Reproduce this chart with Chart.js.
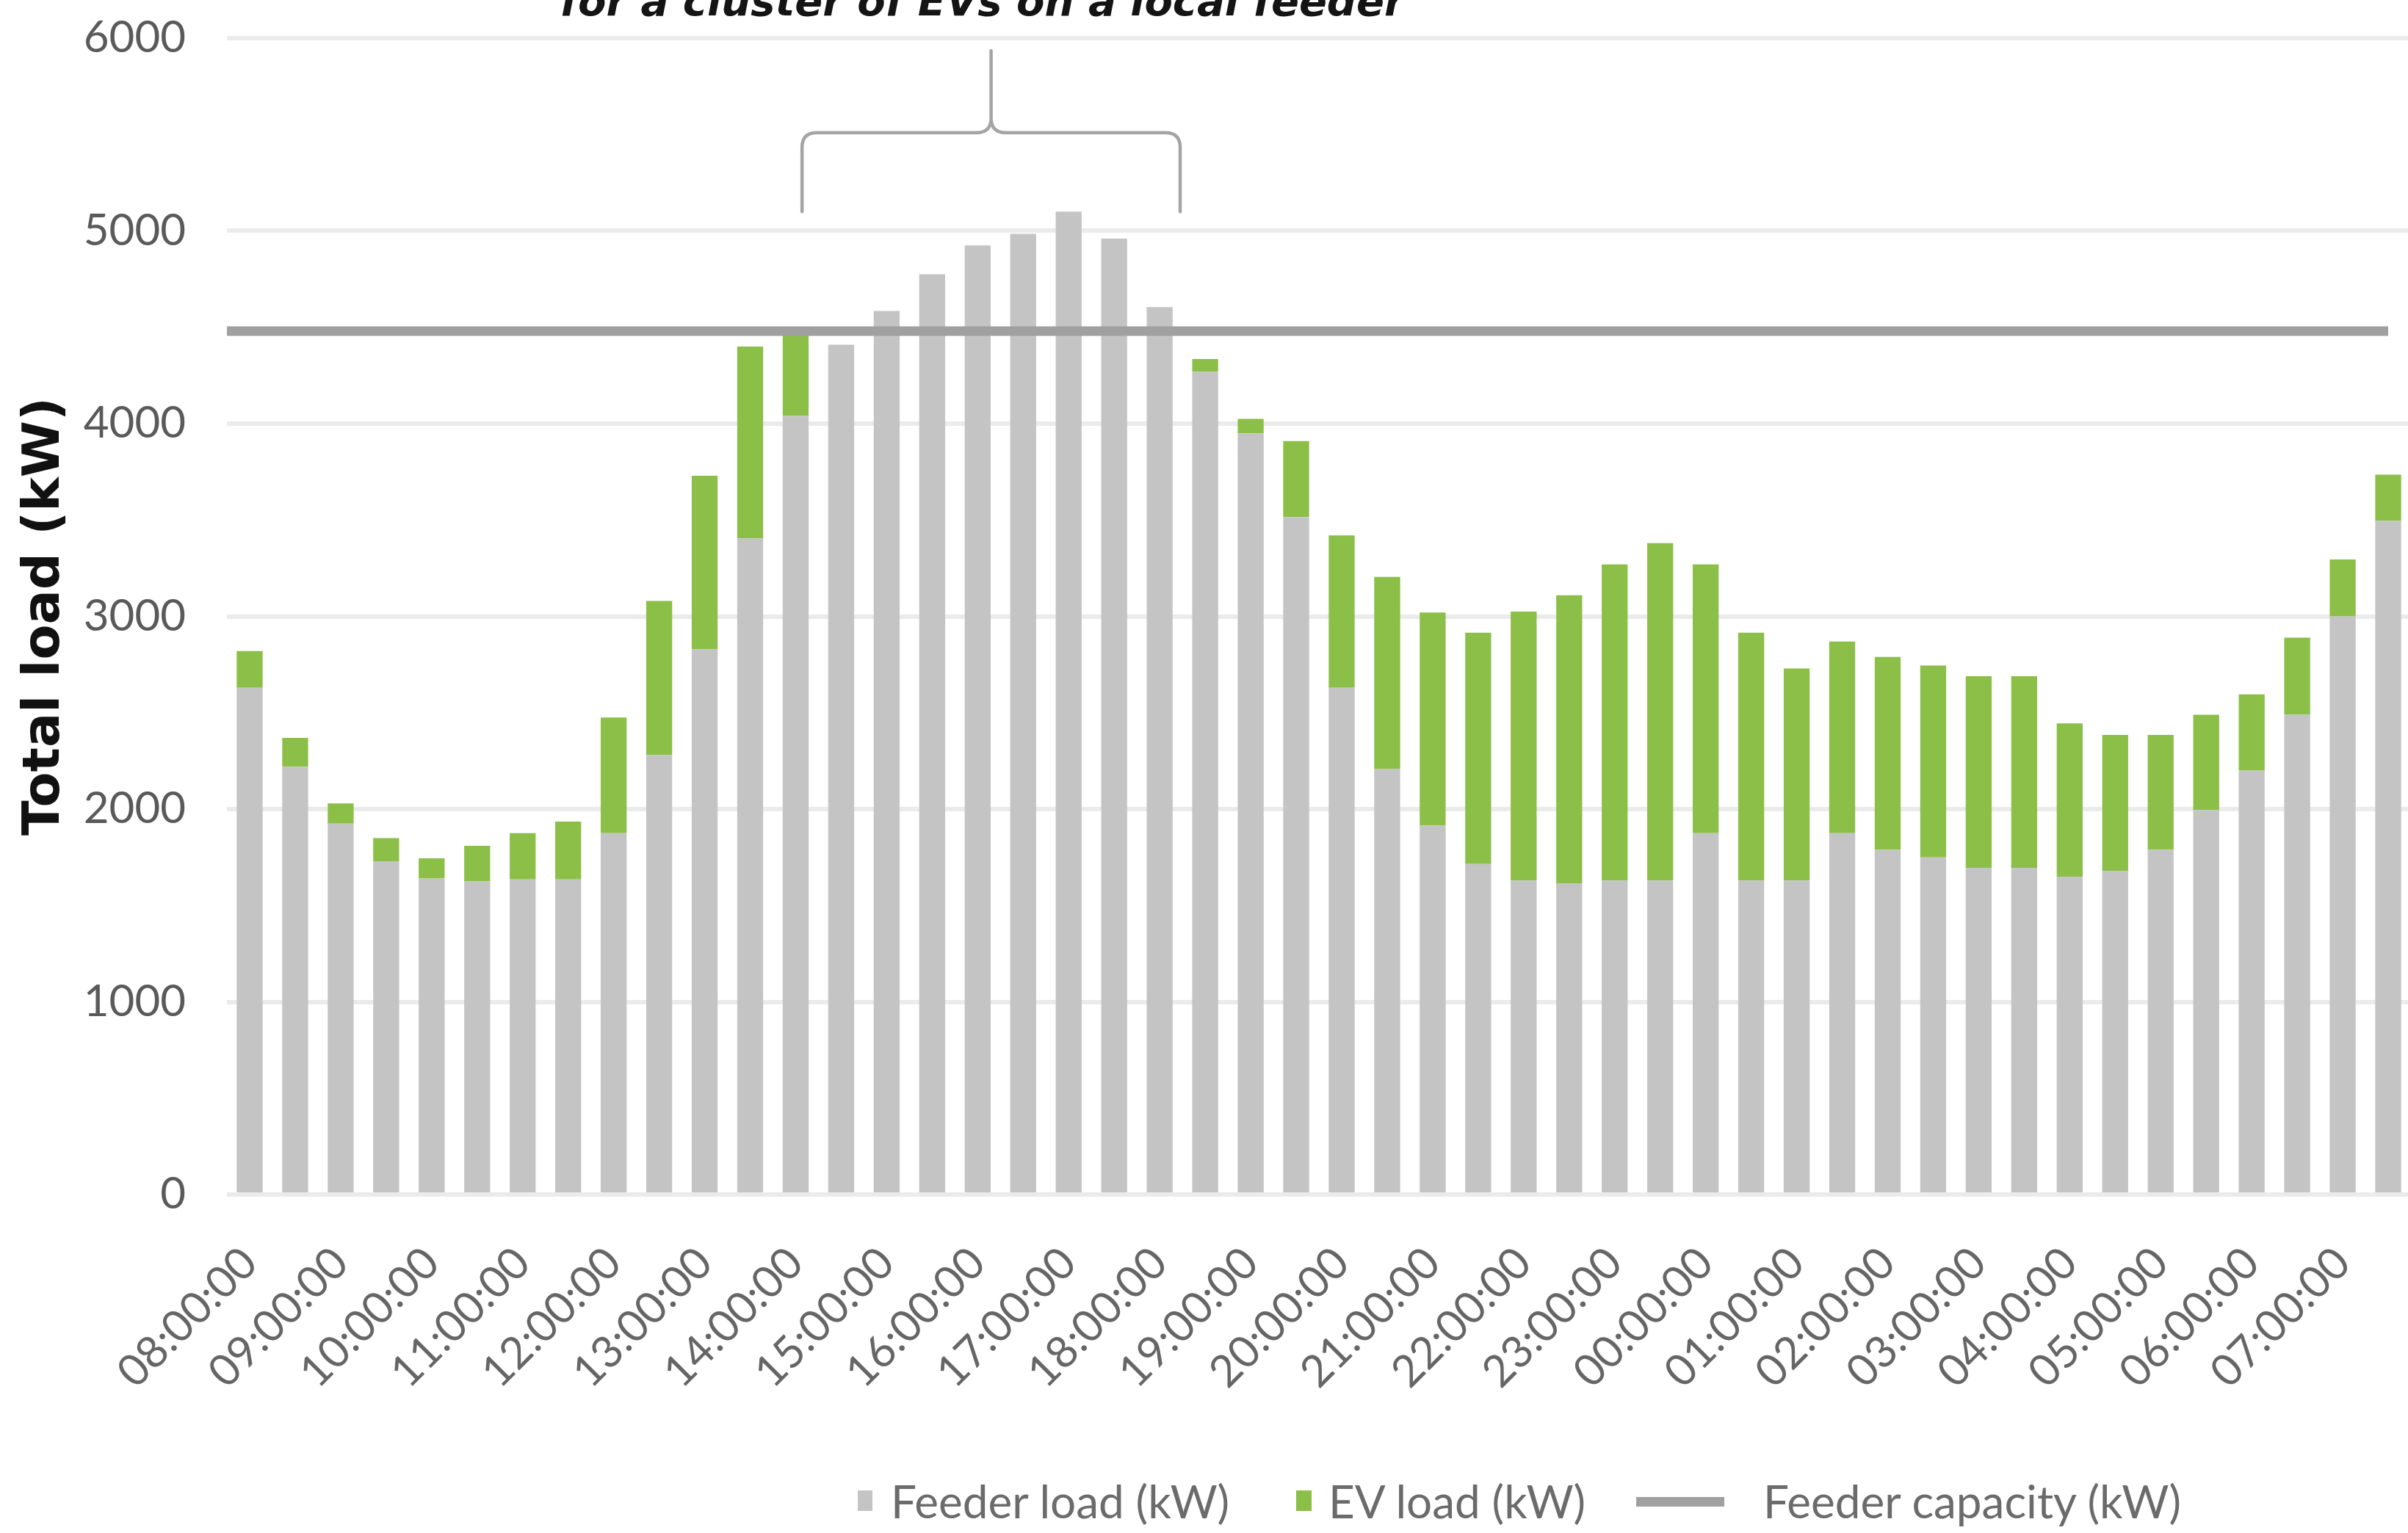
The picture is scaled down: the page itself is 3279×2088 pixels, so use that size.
<!DOCTYPE html>
<html>
<head>
<meta charset="utf-8">
<script src="https://cdn.jsdelivr.net/npm/chart.js@4.4.1/dist/chart.umd.min.js"></script>
<style>
  html, body { margin: 0; padding: 0; background: #ffffff; overflow: hidden; }
  #wrap { position: relative; width: 3279px; height: 2088px; overflow: hidden; background: #ffffff; }
  #chart { position: absolute; left: 0; top: 0; }
  .key { position: absolute; }
  .ltext { position: absolute; top: 2007px; height: 74px; line-height: 74px; white-space: nowrap;
           font-family: Lato, "Open Sans", sans-serif; font-weight: 400; font-size: 62px; color: #6b6b6b; }
</style>
</head>
<body>
<div id="wrap">
  <canvas id="chart" width="3400" height="2088"></canvas>
  <span class="key" style="left:1168px; top:2030px; width:20px; height:28px; background:#c4c4c4;"></span>
  <span class="ltext" style="left:1213px;">Feeder load (kW)</span>
  <span class="key" style="left:1765px; top:2030px; width:21px; height:28px; background:#8bbf47;"></span>
  <span class="ltext" style="left:1809px;">EV load (kW)</span>
  <span class="key" style="left:2228px; top:2039px; width:120px; height:13px; background:#a0a0a0;"></span>
  <span class="ltext" style="left:2401px;">Feeder capacity (kW)</span>
</div>
<script>
// Half-hourly time slots over one day, starting at 08:00
const timeLabels = [
  "08:00:00","08:30:00","09:00:00","09:30:00","10:00:00","10:30:00","11:00:00","11:30:00",
  "12:00:00","12:30:00","13:00:00","13:30:00","14:00:00","14:30:00","15:00:00","15:30:00",
  "16:00:00","16:30:00","17:00:00","17:30:00","18:00:00","18:30:00","19:00:00","19:30:00",
  "20:00:00","20:30:00","21:00:00","21:30:00","22:00:00","22:30:00","23:00:00","23:30:00",
  "00:00:00","00:30:00","01:00:00","01:30:00","02:00:00","02:30:00","03:00:00","03:30:00",
  "04:00:00","04:30:00","05:00:00","05:30:00","06:00:00","06:30:00","07:00:00","07:30:00"
];

// Base feeder load per slot (kW)
const feederLoad = [
  2630, 2220, 1925, 1730, 1640, 1625, 1635, 1635,
  1875, 2280, 2830, 3405, 4040, 4410, 4585, 4775,
  4925, 4985, 5100, 4960, 4605, 4270, 3950, 3515,
  2630, 2210, 1915, 1715, 1630, 1615, 1630, 1630,
  1875, 1630, 1630, 1875, 1790, 1750, 1695, 1695,
  1650, 1680, 1790, 1995, 2200, 2490, 3000, 3495
];

// Additional EV charging load per slot (kW), stacked on the feeder load
const evLoad = [
   190,  150,  105,  120,  105,  185,  240,  300,
   600,  800,  900,  995,  435,    0,    0,    0,
     0,    0,    0,    0,    0,   65,   75,  395,
   790,  995, 1105, 1200, 1395, 1495, 1640, 1750,
  1395, 1285, 1100,  995, 1000,  995,  995,  995,
   795,  705,  595,  495,  395,  400,  295,  240
];

// Feeder capacity (kW) and the slot range the capacity line covers
const feederCapacity = 4480;
const capacitySpan = [-0.5, 47];

// Value axis ticks (kW)
const yTicks = [0, 1000, 2000, 3000, 4000, 5000, 6000];

// Brace over the afternoon peak: slot range and heights (kW)
const braceSpan = [12.14, 20.45];
const braceFoot = 5100;
const braceBar = 5510;
const braceTip = 5935;
const braceCaption = "for a cluster of EVs on a local feeder";
const braceCaptionLevel = 6120;

const bracePlugin = {
  id: 'peakBrace',
  afterDatasetsDraw(chart) {
    const { ctx } = chart;
    const xs = chart.scales.xLine;
    const ys = chart.scales.y;
    const L = xs.getPixelForValue(braceSpan[0]);
    const R = xs.getPixelForValue(braceSpan[1]);
    const C = (L + R) / 2;
    const yf = ys.getPixelForValue(braceFoot);
    const yb = ys.getPixelForValue(braceBar);
    const yt = ys.getPixelForValue(braceTip);
    const r = 20;
    ctx.save();
    ctx.strokeStyle = '#a4a4a4';
    ctx.lineWidth = 4.5;
    ctx.lineJoin = 'round';
    ctx.lineCap = 'round';
    ctx.beginPath();
    ctx.moveTo(L, yf);
    ctx.lineTo(L, yb + r);
    ctx.quadraticCurveTo(L, yb, L + r, yb);
    ctx.lineTo(C - r, yb);
    ctx.quadraticCurveTo(C, yb, C, yb - r);
    ctx.lineTo(C, yt);
    ctx.moveTo(C, yb - r);
    ctx.quadraticCurveTo(C, yb, C + r, yb);
    ctx.lineTo(R - r, yb);
    ctx.quadraticCurveTo(R, yb, R, yb + r);
    ctx.lineTo(R, yf);
    ctx.stroke();

    ctx.fillStyle = '#141414';
    ctx.font = 'italic bold 56px "DejaVu Sans", sans-serif';
    ctx.textAlign = 'center';
    ctx.textBaseline = 'alphabetic';
    ctx.fillText(braceCaption, C - 12, ys.getPixelForValue(braceCaptionLevel));
    ctx.restore();
  }
};

function draw() {
  const ctx = document.getElementById('chart').getContext('2d');
  new Chart(ctx, {
    type: 'bar',
    data: {
      labels: timeLabels,
      datasets: [
        {
          type: 'line',
          label: 'Feeder capacity (kW)',
          data: capacitySpan.map(x => ({ x: x, y: feederCapacity })),
          xAxisID: 'xLine',
          yAxisID: 'y',
          borderColor: '#a0a0a0',
          borderWidth: 13,
          borderCapStyle: 'butt',
          pointRadius: 0,
          fill: false,
          order: 0
        },
        {
          label: 'Feeder load (kW)',
          data: feederLoad,
          backgroundColor: '#c4c4c4',
          stack: 'load',
          grouped: false,
          order: 1
        },
        {
          label: 'EV load (kW)',
          data: evLoad,
          backgroundColor: '#8bbf47',
          stack: 'load',
          grouped: false,
          order: 1
        }
      ]
    },
    options: {
      responsive: false,
      animation: false,
      devicePixelRatio: 1,
      layout: { padding: { top: 52, right: 117, bottom: 0, left: 0 } },
      datasets: { bar: { barPercentage: 0.57, categoryPercentage: 1.0, borderWidth: 0 } },
      plugins: {
        legend: { display: false },
        tooltip: { enabled: false },
        title: { display: false }
      },
      scales: {
        x: {
          stacked: true,
          offset: true,
          grid: { display: false, drawTicks: false },
          border: { display: false },
          ticks: {
            autoSkip: false,
            minRotation: 45,
            maxRotation: 45,
            padding: 58,
            color: '#666666',
            font: { family: 'Lato', size: 60, weight: '400' },
            callback: function (value, index) {
              return index % 2 === 0 ? this.getLabelForValue(value) : '';
            }
          },
          afterFit(scale) { scale.height = 461; }
        },
        xLine: {
          type: 'linear',
          display: false,
          offset: false,
          grid: { offset: false },
          min: -0.5,
          max: 47.5
        },
        y: {
          stacked: true,
          min: yTicks[0],
          max: yTicks[yTicks.length - 1],
          afterBuildTicks(scale) { scale.ticks = yTicks.map(v => ({ value: v })); },
          ticks: {
            padding: 0,
            color: '#5a5a5a',
            font: { family: 'Lato', size: 60, weight: '400' },
            callback: v => String(v)
          },
          grid: {
            color: '#ebebeb',
            lineWidth: 6,
            drawTicks: true,
            tickLength: 56,
            tickColor: 'rgba(0,0,0,0)'
          },
          border: { display: false },
          title: {
            display: true,
            text: 'Total load (kW)',
            color: '#111111',
            font: { family: 'DejaVu Sans', weight: 'bold', size: 70 },
            padding: { top: 20, bottom: 0 }
          },
          afterFit(scale) { scale.width = 309; }
        }
      }
    },
    plugins: [bracePlugin]
  });
}

Promise.all([
  document.fonts.load('60px Lato'),
  document.fonts.load('bold 70px "DejaVu Sans"'),
  document.fonts.load('italic bold 56px "DejaVu Sans"')
]).then(draw, draw);
</script>
</body>
</html>
